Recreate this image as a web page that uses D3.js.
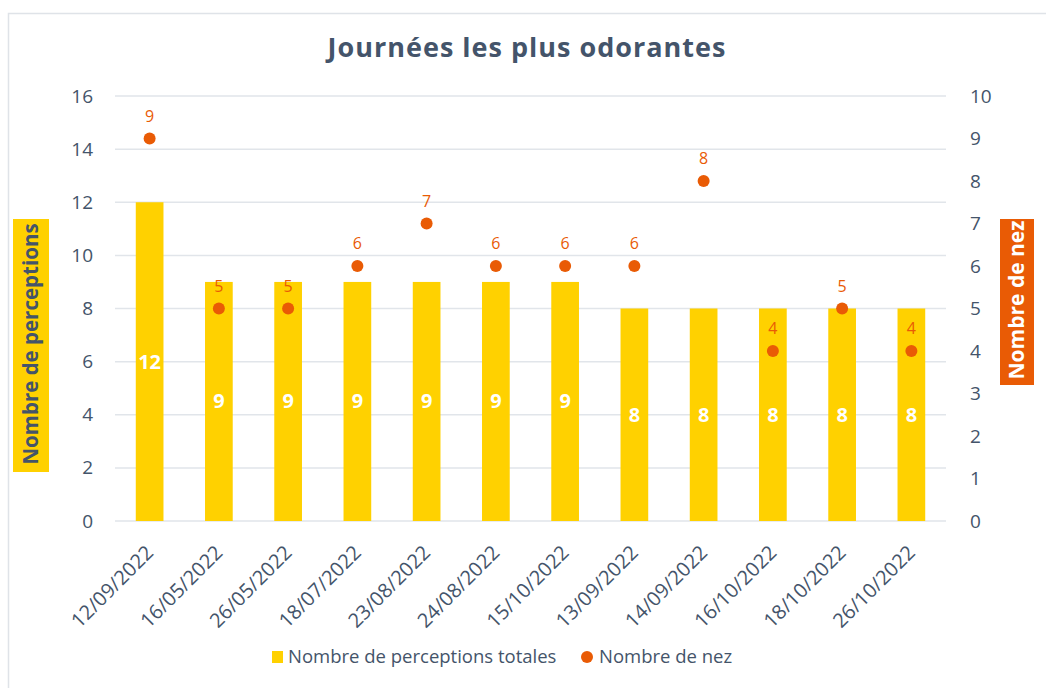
<!DOCTYPE html>
<html><head><meta charset="utf-8">
<script src="https://cdn.jsdelivr.net/npm/d3@7"></script>
<style>body{margin:0;background:#fff;}svg{display:block;}</style>
</head><body><svg id="c" width="1046" height="688"></svg>
<script>
const categories = ["12/09/2022","16/05/2022","26/05/2022","18/07/2022","23/08/2022","24/08/2022","15/10/2022","13/09/2022","14/09/2022","16/10/2022","18/10/2022","26/10/2022"];
const perceptions = [12,9,9,9,9,9,9,8,8,8,8,8];
const nez = [9,5,5,6,7,6,6,6,8,4,5,4];
const leftTicks = [0,2,4,6,8,10,12,14,16];
const rightTicks = [0,1,2,3,4,5,6,7,8,9,10];

const svg = d3.select("#c");
const font = "'Open Sans', 'Noto Sans', sans-serif";
const textCol = "#44546a";
const yellow = "#FFD100";
const orange = "#E95B05";
const L = 115, R = 946, T = 96, B = 521;

// frame
svg.append("rect").attr("x",8.5).attr("y",13.5).attr("width",1060).attr("height",700)
  .attr("fill","#fff").attr("stroke","#dfe3e8").attr("stroke-width",1.5);

const x = d3.scaleBand().domain(categories).range([L,R]).paddingInner(0.6).paddingOuter(0.3);
const yL = d3.scaleLinear().domain([0,16]).range([B,T]);
const yR = d3.scaleLinear().domain([0,10]).range([B,T]);

// grid
svg.append("g").selectAll("line").data(leftTicks).join("line")
  .attr("x1",L).attr("x2",R).attr("y1",d=>yL(d)).attr("y2",d=>yL(d))
  .attr("stroke","#e1e5ea").attr("stroke-width",1.5);

// left axis
const gl = svg.append("g").attr("transform",`translate(${L},0)`)
  .call(d3.axisLeft(yL).tickValues(leftTicks).tickSize(0).tickPadding(22));
gl.select(".domain").remove();
gl.selectAll("text").attr("font-family",font).attr("font-size",19).attr("fill",textCol);

// right axis
const gr = svg.append("g").attr("transform",`translate(${R},0)`)
  .call(d3.axisRight(yR).tickValues(rightTicks).tickSize(0).tickPadding(24));
gr.select(".domain").remove();
gr.selectAll("text").attr("font-family",font).attr("font-size",19).attr("fill",textCol);

// bars
svg.append("g").selectAll("rect").data(categories).join("rect")
  .attr("x",d=>x(d)).attr("width",x.bandwidth())
  .attr("y",(d,i)=>yL(perceptions[i])).attr("height",(d,i)=>B-yL(perceptions[i]))
  .attr("fill",yellow);

// bar labels
svg.append("g").selectAll("text").data(categories).join("text")
  .attr("x",d=>x(d)+x.bandwidth()/2)
  .attr("y",(d,i)=>(yL(perceptions[i])+B)/2)
  .attr("dy","0.35em").attr("text-anchor","middle")
  .attr("font-family",font).attr("font-weight","bold").attr("font-size",20).attr("fill","#fff")
  .text((d,i)=>perceptions[i]);

// dots
svg.append("g").selectAll("circle").data(categories).join("circle")
  .attr("cx",d=>x(d)+x.bandwidth()/2).attr("cy",(d,i)=>yR(nez[i])).attr("r",6)
  .attr("fill",orange);
svg.append("g").selectAll("text").data(categories).join("text")
  .attr("x",d=>x(d)+x.bandwidth()/2).attr("y",(d,i)=>yR(nez[i])-17)
  .attr("text-anchor","middle").attr("font-family",font).attr("font-size",16).attr("fill",orange)
  .text((d,i)=>nez[i]);

// x labels
svg.append("g").selectAll("text").data(categories).join("text")
  .attr("transform",d=>`translate(${x(d)+x.bandwidth()/2},${B+28}) rotate(-45)`)
  .attr("text-anchor","end").attr("dy","0.35em")
  .attr("font-family",font).attr("font-size",20).attr("fill",textCol)
  .text(d=>d);

// title
svg.append("text").attr("x",527).attr("y",57).attr("text-anchor","middle")
  .attr("font-family",font).attr("font-weight","bold").attr("font-size",27)
  .attr("letter-spacing",1).attr("fill",textCol)
  .text("Journées les plus odorantes");

// left axis title
svg.append("rect").attr("x",13).attr("y",219).attr("width",36).attr("height",253).attr("fill",yellow);
svg.append("text").attr("transform","translate(31,344) rotate(-90)")
  .attr("text-anchor","middle").attr("dy","0.35em")
  .attr("font-family",font).attr("font-weight","bold").attr("font-size",20.5).attr("fill",textCol)
  .text("Nombre de perceptions");

// right axis title
svg.append("rect").attr("x",1000).attr("y",219).attr("width",34).attr("height",166).attr("fill",orange);
svg.append("text").attr("transform","translate(1017,300) rotate(-90)")
  .attr("text-anchor","middle").attr("dy","0.35em")
  .attr("font-family",font).attr("font-weight","bold").attr("font-size",21).attr("fill","#fff")
  .text("Nombre de nez");

// legend
const lg = svg.append("g");
lg.append("rect").attr("x",272).attr("y",651).attr("width",11).attr("height",12).attr("fill",yellow);
lg.append("text").attr("x",288).attr("y",657).attr("dy","0.35em")
  .attr("font-family",font).attr("font-size",18.5).attr("fill",textCol).text("Nombre de perceptions totales");
lg.append("circle").attr("cx",587).attr("cy",657).attr("r",6).attr("fill",orange);
lg.append("text").attr("x",599).attr("y",657).attr("dy","0.35em")
  .attr("font-family",font).attr("font-size",18.5).attr("fill",textCol).text("Nombre de nez");
</script></body></html>
